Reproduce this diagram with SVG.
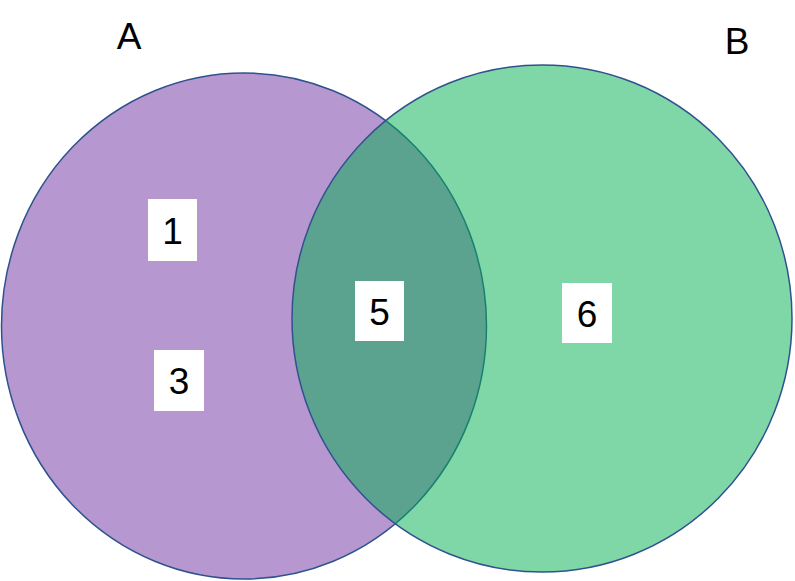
<svg xmlns="http://www.w3.org/2000/svg" width="795" height="581" viewBox="0 0 795 581">
<style>
.set{stroke:#2F528F;stroke-width:1.5}
.box{fill:#FFFFFF}
.num{font-family:"Liberation Sans",Arial,sans-serif;font-size:37px;fill:#000;text-anchor:middle}
.lbl{font-family:"Liberation Sans",Arial,sans-serif;font-size:37px;fill:#000;text-anchor:middle}
</style>
<rect width="795" height="581" fill="#FFFFFF"/>
<g id="setA">
<ellipse class="set" cx="244" cy="326" rx="242.5" ry="253" fill="#7030A0" fill-opacity="0.5"/>
</g>
<g id="setB">
<ellipse class="set" cx="542" cy="318.5" rx="250" ry="253.5" fill="#00B050" fill-opacity="0.5"/>
</g>
<g id="labelA"><text class="lbl" x="129" y="49">A</text></g>
<g id="labelB"><text class="lbl" x="737" y="54">B</text></g>
<g id="n1"><rect class="box" x="148" y="199" width="49" height="62"/><text class="num" x="172.5" y="243.5">1</text></g>
<g id="n3"><rect class="box" x="154" y="350" width="50" height="61"/><text class="num" x="179" y="394">3</text></g>
<g id="n5"><rect class="box" x="355" y="281" width="49" height="60"/><text class="num" x="379.5" y="324.5">5</text></g>
<g id="n6"><rect class="box" x="562" y="283" width="50" height="60"/><text class="num" x="587" y="326.5">6</text></g>
<g id="connectors"></g>
</svg>
